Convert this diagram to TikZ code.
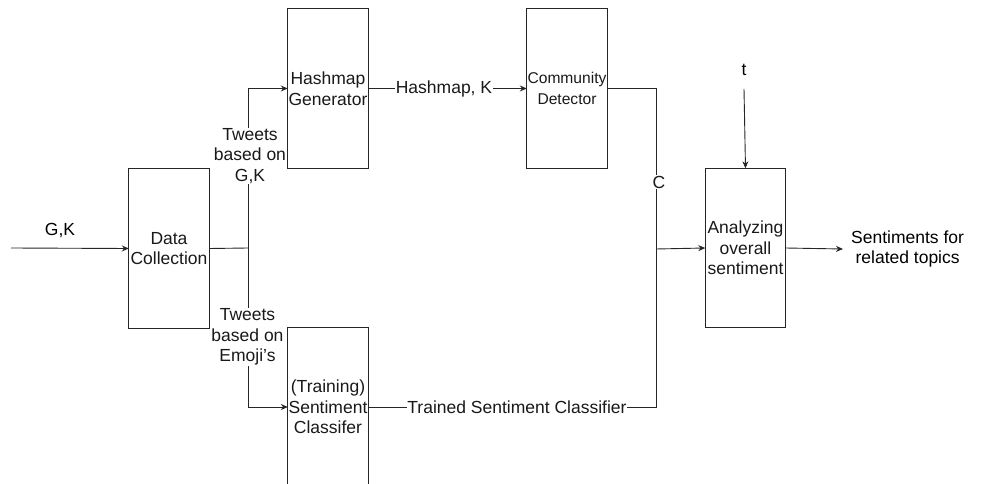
\documentclass[tikz,border=0pt]{standalone}
\usepackage{fontspec}
\setmainfont{Liberation Sans}
\usetikzlibrary{arrows.meta}

\tikzset{
  stage/.style={minimum width=80pt, minimum height=159pt,
    inner sep=0pt, align=center, text=black!90},
  tag/.style={fill=white, inner sep=0.5pt, align=center, text=black!90},
  wire/.style={draw=black!85, line width=0.9pt},
  flow/.style={wire, -{Stealth[length=7pt,width=6pt]}}
}

\begin{document}
\begin{tikzpicture}[x=1pt,y=-1pt,font=\fontsize{17.5}{20.5}\selectfont]
        \useasboundingbox (0,0) rectangle (983,484);
        % boxes
        \node[stage] (datacoll) at (169,248.5) {Data\\Collection};
        \node[stage] (hashgen) at (328,88.5) {Hashmap\\Generator};
        \node[stage] (commdet) at (567,88.5) {\fontsize{15.6}{18.5}\selectfont Community\\\fontsize{15.6}{18.5}\selectfont Detector};
        \node[stage] (sentclass) at (328,407) {(Training)\\Sentiment\\Classifer};
        \node[stage] (overall) at (745.5,248) {Analyzing\\overall\\sentiment};
        % free ends and joints
        \coordinate (input) at (11,248);
        \coordinate (split) at (248,248);
        \coordinate (merge) at (656,249);
        \node[inner sep=0pt] (tparam) at (744,70) {t};
        \node[anchor=west, align=center, inner sep=0pt] (result) at (851,249) {Sentiments for\\related topics};
        % connectors
        \draw[flow] (input) -- (datacoll.west);
        \draw[wire] (datacoll.east) -- (split);
        \draw[flow] (split) |- (hashgen.west);
        \draw[flow] (split) |- (sentclass.west);
        \draw[flow] (hashgen.east) -- (commdet.west);
        \draw[wire] (commdet.east) -| (merge);
        \draw[wire] (sentclass.east) -| (merge);
        \draw[flow] (merge) -- (overall.west);
        \draw[flow] (744,89) -- (overall.north);
        \draw[flow] (overall.east) -- ([xshift=-8pt]result.west);
        % labels
        \node (gklabel) at (60,231) {G,K};
        \node[tag] (tweetsgk) at (250,156) {Tweets\\based on\\G,K};
        \node[tag] (tweetsemoji) at (247.5,337) {Tweets\\based on\\Emoji's};
        \node[tag] (hashk) at (444,89) {Hashmap, K};
        \node[tag] (trained) at (517,407) {Trained Sentiment Classifier};
        \node[tag] (clabel) at (659,182) {C};
        % box outlines on top of the label fills
        \foreach \b in {datacoll,hashgen,commdet,sentclass,overall}
          \draw[black!85, line width=1pt] (\b.north west) rectangle (\b.south east);
      \end{tikzpicture}
\end{document}
